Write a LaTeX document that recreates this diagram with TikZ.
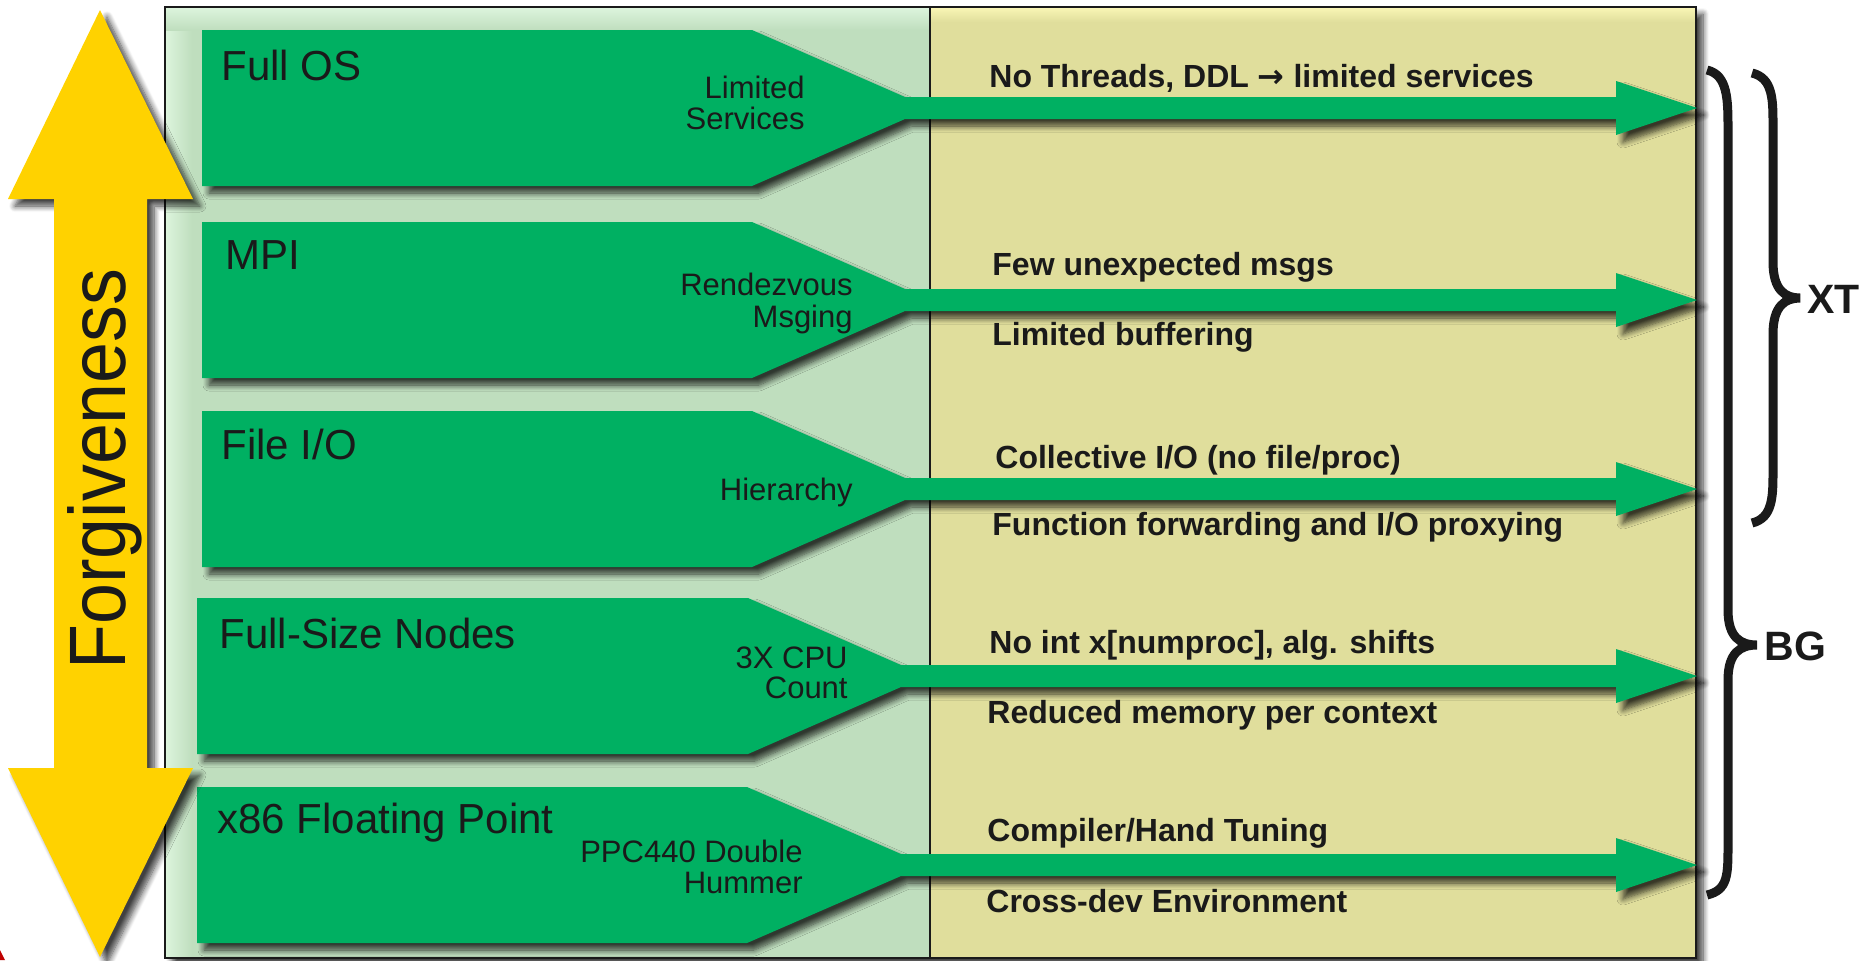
\documentclass[tikz,border=0pt]{standalone}
\usepackage{fontspec}
\setmainfont{Liberation Sans}
\newfontfamily\arrowfont{DejaVu Sans}
\usetikzlibrary{shadows.blur}
\definecolor{arrgreen}{RGB}{0,176,98}
\definecolor{panelgreen}{RGB}{191,222,190}
\definecolor{panelgreenlight}{RGB}{220,244,220}
\definecolor{panelyellow}{RGB}{224,222,156}
\definecolor{panelyellowlight}{RGB}{248,245,180}
\definecolor{gold}{RGB}{255,210,0}
\definecolor{ink}{RGB}{26,26,26}
\tikzset{
  shad/.style={blur shadow={shadow xshift=3.5pt, shadow yshift=-3.5pt, shadow blur radius=3pt, shadow blur steps=8, shadow opacity=75}},
  bigtxt/.style={ink, inner sep=0pt, anchor=base west, font=\fontsize{21}{21}\selectfont},
  subtxt/.style={ink, inner sep=0pt, anchor=base east, font=\fontsize{15.5}{15.5}\selectfont},
  rtxt/.style={ink, inner sep=0pt, anchor=base west, font=\bfseries\fontsize{16}{16}\selectfont},
  bracetxt/.style={ink, inner sep=0pt, anchor=base west, font=\bfseries\fontsize{20.5}{20.5}\selectfont},
  brace/.style={draw=ink, line width=4.5pt},
}
\newcommand\rowshape[4]{%
  \fill[arrgreen, shad] (#1,#2-78) -- (#3,#2-78) -- (#4,#2-11) -- (1616,#2-11) -- (1616,#2-27) -- (1697,#2) -- (1616,#2+27) -- (1616,#2+11) -- (#4,#2+11) -- (#3,#2+78) -- (#1,#2+78) -- cycle;}
\begin{document}
\begin{tikzpicture}[x=0.5pt, y=-0.5pt]
\useasboundingbox (0,0) rectangle (1873,960);
% panels
\fill[panelgreen, shad] (165,7) rectangle (1696,958);
\fill[panelyellow] (930,7) rectangle (1696,958);
\shade[left color=panelgreenlight, right color=panelgreen] (166,8) rectangle (192,957);
\shade[top color=panelgreenlight, bottom color=panelgreen] (166,8) rectangle (929,30);
\shade[top color=panelyellowlight, bottom color=panelyellow] (931,8) rectangle (1695,22);
\draw[ink, line width=0.6pt] (930,7) -- (930,958);
\draw[ink, line width=1pt] (165,7) rectangle (1696,958);
% rows
\rowshape{202}{108}{752}{905}
\rowshape{202}{300}{752}{905}
\rowshape{202}{489}{752}{905}
\rowshape{197}{676}{748}{901}
\rowshape{197}{865}{747}{901}
% row texts
\node[bigtxt] (t1) at (221,80) {Full OS};
\node[subtxt] (s1a) at (805,98) {Limited};
\node[subtxt] (s1b) at (805,129) {Services};
\node[rtxt] (r1a) at (989,87) {No Threads, DDL {\arrowfont\bfseries →} limited services};
\node[bigtxt] (t2) at (225,269) {MPI};
\node[subtxt] (s2a) at (853,295) {Rendezvous};
\node[subtxt] (s2b) at (853,327) {Msging};
\node[rtxt] (r2a) at (992,275) {Few unexpected msgs};
\node[rtxt] (r2b) at (992,345) {Limited buffering};
\node[bigtxt] (t3) at (221,459) {File I/O};
\node[subtxt] (s3a) at (853,500) {Hierarchy};
\node[rtxt] (r3a) at (995,468) {Collective I/O (no file/proc)};
\node[rtxt] (r3b) at (992,535) {Function forwarding and I/O proxying};
\node[bigtxt] (t4) at (219,648) {Full-Size Nodes};
\node[subtxt] (s4a) at (848,668) {3X CPU};
\node[subtxt] (s4b) at (848,698) {Count};
\node[rtxt] (r4a) at (989,653) {No int x[numproc], alg. shifts};
\node[rtxt] (r4b) at (987,723) {Reduced memory per context};
\node[bigtxt] (t5) at (217,833) {x86 Floating Point};
\node[subtxt] (s5a) at (803,862) {PPC440 Double};
\node[subtxt] (s5b) at (803,893) {Hummer};
\node[rtxt] (r5a) at (987,841) {Compiler/Hand Tuning};
\node[rtxt] (r5b) at (986,912) {Cross-dev Environment};
% yellow double arrow
\fill[gold, shad] (100,10) -- (193,199) -- (147,199) -- (147,768) -- (193,768) -- (100,957) -- (8,768) -- (54,768) -- (54,199) -- (8,199) -- cycle;
\node[rotate=90, anchor=base, inner sep=0pt, ink] (forg) at (125,469) {\scalebox{0.92}[1]{\fontsize{40}{40}\selectfont Forgiveness}};
% red corner mark
\fill[red!75!black] (0,950) -- (5,960) -- (0,960) -- cycle;
% braces
\draw[brace] (1752,73) .. controls (1773,78) and (1773,100) .. (1773,125) -- (1773,262) .. controls (1773,290) and (1785,298) .. (1800,298) .. controls (1785,298) and (1773,306) .. (1773,334) -- (1773,471) .. controls (1773,496) and (1773,518) .. (1752,523);
\draw[brace] (1707,70) .. controls (1728,75) and (1728,100) .. (1728,130) -- (1728,610) .. controls (1728,637) and (1740,645) .. (1757,645) .. controls (1740,645) and (1728,653) .. (1728,680) -- (1728,845) .. controls (1728,875) and (1728,890) .. (1707,895);
\node[bracetxt] (xt) at (1807,313) {XT};
\node[bracetxt] (bg) at (1764,660) {BG};
\end{tikzpicture}
\end{document}
